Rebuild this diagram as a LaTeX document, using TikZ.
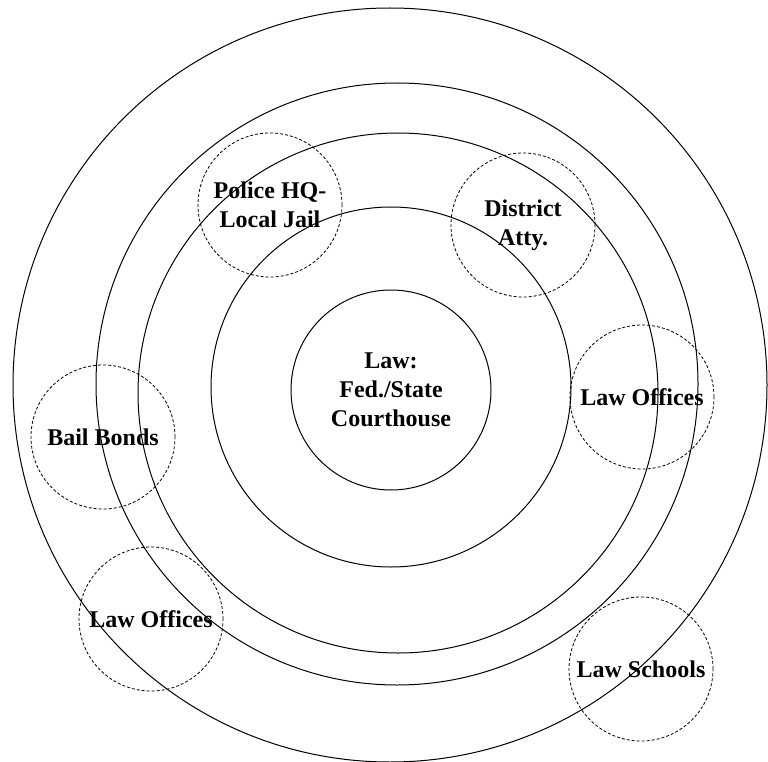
\documentclass[tikz,border=0pt]{standalone}
\usepackage{fontspec}
\setmainfont{Liberation Serif}
\begin{document}
\begin{tikzpicture} [x = 1pt, y = -1pt, line width = 1pt,
  font = \bfseries\fontsize{24}{29}\selectfont,
  every node/.style = {circle, inner sep = 0pt, align = center},
  place/.style = {draw, dash pattern = on 3pt off 2pt, line width = 0.8pt, minimum size = 144pt}]

\useasboundingbox (0,0) rectangle (768,762);

\node [draw, minimum size = 754pt] (ring4) at (390,385) {};
\node [draw, minimum size = 602pt] (ring3) at (397,384) {};
\node [draw, minimum size = 520pt] (ring2) at (398,393) {};
\node [draw, minimum size = 360pt] (ring1) at (391,387) {};
\node [draw, minimum size = 200pt] (court) at (391,390) {Law:\\Fed./State\\Courthouse};

\node [place] (police) at (270,205) {Police HQ-\\Local Jail};
\node [place] (da) at (523,225) {District\\Atty.};
\node [place] (offices1) at (642,397) {Law Offices};
\node [place] (bail) at (103,437) {Bail Bonds};
\node [place] (offices2) at (151,619) {Law Offices};
\node [place] (schools) at (641,669) {Law Schools};

\end{tikzpicture}
\end{document}
